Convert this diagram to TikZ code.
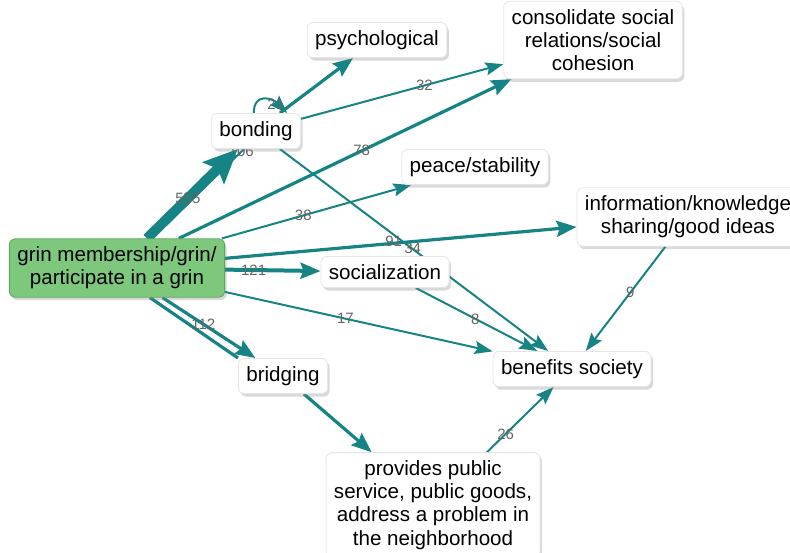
\documentclass[tikz,border=0pt]{standalone}
\usepackage{fontspec}
\setmainfont{Liberation Sans}
\usetikzlibrary{arrows.meta,shadows,backgrounds,calc}

\definecolor{edgeteal}{RGB}{22,132,132}
\definecolor{grinfill}{RGB}{125,200,125}
\definecolor{grinline}{RGB}{95,165,95}
\definecolor{lblgray}{RGB}{100,100,100}

\tikzset{concept/.style={draw=black!10,fill=white,rounded corners=3pt,align=center,
           inner xsep=4pt,inner ysep=4pt,font=\fontsize{10.3}{11.6}\selectfont,
           drop shadow={shadow xshift=1pt,shadow yshift=-1.5pt,opacity=0.3}},
         rootconcept/.style={concept,fill=grinfill,draw=grinline},
         link/.style={draw=edgeteal,line width=1pt,-{Stealth[length=9pt,width=6.5pt,inset=1.5pt]}},
         boldlink/.style={link,line width=1.6pt,-{Stealth[length=10pt,width=8pt,inset=1.5pt]}},
         lbl/.style={font=\fontsize{7.5}{8}\selectfont,text=lblgray,inner sep=0.5pt}}

\begin{document}
\begin{tikzpicture}[x=0.5pt,y=-0.5pt]
                  \useasboundingbox (0,0) rectangle (790,552);
                  \node[rootconcept] (grin) at (117,268) {grin membership/grin/\\participate in a grin};
                  \node[concept] (bonding) at (256,131) {bonding};
                  \node[concept] (psych) at (377,40) {psychological};
                  \node[concept] (cohesion) at (593,40) {consolidate social\\relations/social\\cohesion};
                  \node[concept] (peace) at (475,167) {peace/stability};
                  \node[concept] (info) at (688,217) {information/knowledge\\sharing/good ideas};
                  \node[concept] (social) at (385,272) {socialization};
                  \node[concept] (society) at (572,369) {benefits society};
                  \node[concept] (bridging) at (283,376) {bridging};
                  \node[concept] (public) at (433,505) {provides public\\service, public goods,\\address a problem in\\the neighborhood};
                  \begin{scope}[on background layer]
                  \draw[link,-] ($(grin.north)+(35,0)$) -- ($(bonding.south)+(-12,0)$) node[lbl,pos=0.97] (l106) {106};
                  \draw[link,line width=5pt,-{Stealth[length=17pt,width=15pt,inset=3pt]}] (grin) -- (bonding) node[lbl,pos=0.45] (l555) {555};
                  \draw[link] (bonding.97) to[out=90,in=135,looseness=1.6] node[lbl,pos=0.75] (l21) {21} (bonding.30);
                  \draw[boldlink] (bonding) -- (psych);
                  \draw[link] (bonding) -- (cohesion) node[lbl,pos=0.61] (l32) {32};
                  \draw[boldlink] (grin) -- (cohesion) node[lbl,pos=0.55] (l78) {78};
                  \draw[link] (bonding) -- (society) node[lbl,pos=0.48,xshift=2pt,yshift=-1pt] (l34) {34};
                  \draw[link] (grin) -- (peace) node[lbl,pos=0.43] (l38) {38};
                  \draw[boldlink] (grin) -- (info) node[lbl,pos=0.48,yshift=1pt] (l91) {91};
                  \draw[boldlink,line width=2pt] (grin) -- (social) node[lbl,pos=0.3] (l121) {121};
                  \draw[link] (grin) -- (society) node[lbl,pos=0.45] (l17) {17};
                  \draw[boldlink,-] ($(grin.south)+(33,0)$) -- (bridging.north west);
                  \draw[boldlink] (grin) -- (bridging) node[lbl,pos=0.44] (l112) {112};
                  \draw[link] (social) -- (society) node[lbl,pos=0.49] (l8) {8};
                  \draw[link] (info) -- (society) node[lbl,pos=0.44] (l9) {9};
                  \draw[boldlink] (bridging) -- (public);
                  \draw[link] (public) -- (society) node[lbl,pos=0.28] (l26) {26};
                  \end{scope}
              \end{tikzpicture}
\end{document}
